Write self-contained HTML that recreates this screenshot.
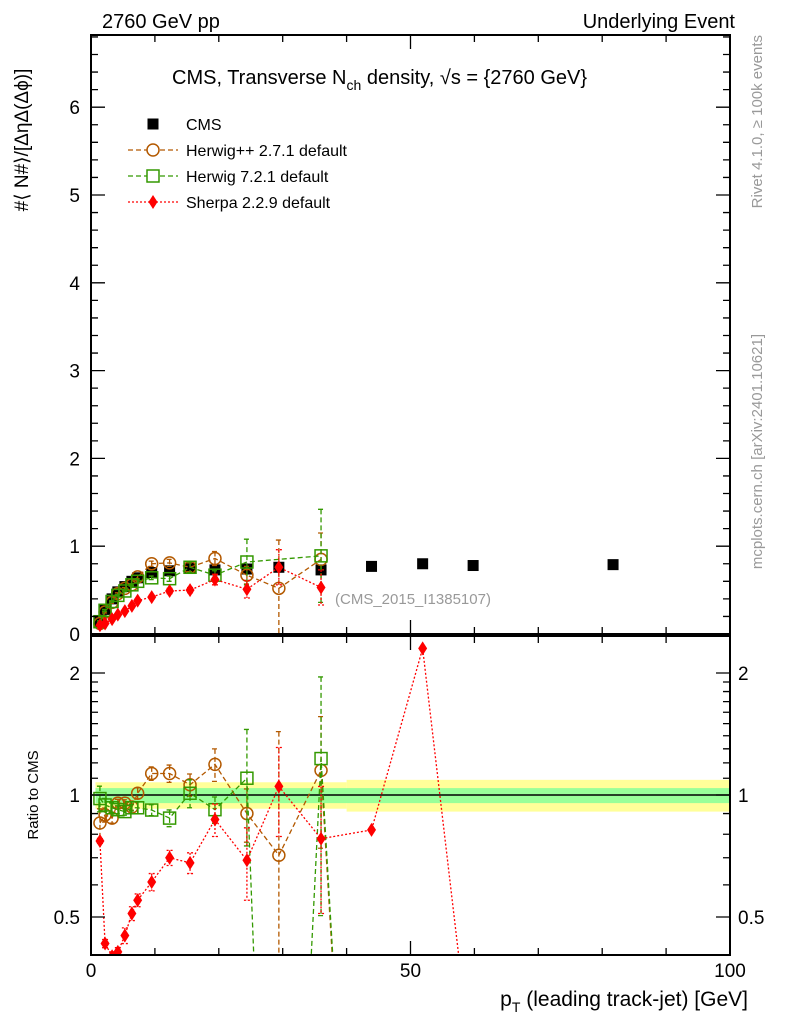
<!DOCTYPE html>
<html><head><meta charset="utf-8"><style>
html,body{margin:0;background:#fff;width:786px;height:1024px;overflow:hidden}
svg{font-family:"Liberation Sans",sans-serif;display:block}
</style></head><body>
<svg id="c" width="786" height="1024" viewBox="0 0 786 1024"></svg>
<script>
const xs=[1.4,2.2,3.3,4.2,5.3,6.4,7.3,9.5,12.3,15.5,19.4,24.4,29.4,36,43.9,51.9,59.8,81.7];
const cms=[0.14,0.28,0.4,0.48,0.54,0.6,0.64,0.7,0.72,0.75,0.73,0.74,0.76,0.73,0.77,0.8,0.78,0.79];
const hwpp=[0.12,0.25,0.36,0.46,0.52,0.56,0.65,0.8,0.81,0.76,0.86,0.67,0.52,0.85];
const hwppErr=[0.01,0.01,0.01,0.01,0.01,0.01,0.02,0.03,0.04,0.05,0.08,0.1,0.55,0.3];
const hw7=[0.14,0.27,0.37,0.44,0.49,0.56,0.6,0.64,0.63,0.76,0.67,0.82,null,0.89];
const hw7Err=[0.01,0.01,0.01,0.01,0.01,0.01,0.02,0.02,0.03,0.06,0.05,0.26,0,0.53];
const sherpa=[0.1,0.12,0.17,0.22,0.26,0.32,0.38,0.42,0.49,0.5,0.62,0.51,0.76,0.53];
const sherpaErr=[0.01,0.01,0.01,0.01,0.01,0.02,0.02,0.02,0.03,0.03,0.06,0.1,0.2,0.2];
const rHwpp=[0.853,0.893,0.877,0.955,0.955,0.934,1.01,1.13,1.13,1.06,1.19,0.90,0.71,1.15,0.01];
const rHw7=[0.98,0.945,0.93,0.92,0.91,0.93,0.93,0.918,0.877,1.01,0.92,1.10,0.01,1.23,0.01];
const rSherpa=[0.77,0.43,0.40,0.41,0.45,0.51,0.55,0.61,0.70,0.68,0.87,0.69,1.05,0.78,0.82,2.3,0.2,0.2];
const rSherpaErr=[0.01,0.01,0.01,0.01,0.02,0.02,0.02,0.03,0.03,0.04,0.08,0.14,0.26,0.27,0,0,0,0];
const yTicks=[0,1,2,3,4,5,6];
const rTicks=[0.5,1,2];
const xTicks=[0,50,100];

const svg=document.getElementById('c');
const NS='http://www.w3.org/2000/svg';
function mk(tag,at,txt){const e=document.createElementNS(NS,tag);for(const k in at)e.setAttribute(k,at[k]);if(txt!==undefined)e.textContent=txt;svg.appendChild(e);return e;}
const L=91,R=730,MT=35,MB=634,RT=636,RB=955;
const X=v=>L+v*(R-L)/100;
const Y=v=>MB-v*87.8;
const RY=v=>795-122*Math.log2(v);
const cp=mk('clipPath',{id:'rc'});
const cr=document.createElementNS(NS,'rect');cr.setAttribute('x',L);cr.setAttribute('y',RT);cr.setAttribute('width',R-L);cr.setAttribute('height',RB-RT);cp.appendChild(cr);
const cp2=mk('clipPath',{id:'mc'});
const cr2=document.createElementNS(NS,'rect');cr2.setAttribute('x',L);cr2.setAttribute('y',MT);cr2.setAttribute('width',R-L);cr2.setAttribute('height',MB-MT);cp2.appendChild(cr2);

let e=mk('rect',{x:X(0.7),y:RY(1.075),width:X(40)-X(0.7),height:RY(0.925)-RY(1.075),fill:'#ffff99'});

e=mk('rect',{x:X(40),y:RY(1.09),width:R-X(40),height:RY(0.91)-RY(1.09),fill:'#ffff99'});

e=mk('rect',{x:X(0.7),y:RY(1.04),width:R-X(0.7),height:RY(0.955)-RY(1.04),fill:'#99ff99'});

e=mk('line',{x1:L,x2:R,y1:RY(1),y2:RY(1),stroke:'#000','stroke-width':1.5});


function series(vals,errs,yf,col,dash,marker,name,clip,drawLine){
  const g=mk('g',{'clip-path':'url(#'+clip+')'});
  
  if(drawLine){
    let pts=[];
    vals.forEach((v,i)=>{if(v===null)return;pts.push(X(xs[i])+','+yf(Math.max(v,0.001)));});
    const pl=document.createElementNS(NS,'polyline');
    pl.setAttribute('points',pts.join(' '));pl.setAttribute('fill','none');pl.setAttribute('stroke',col);pl.setAttribute('stroke-width',1.3);pl.setAttribute('stroke-dasharray',dash);
    g.appendChild(pl);
  }
  vals.forEach((v,i)=>{
    if(v===null||v<0.05)return;
    const x=X(xs[i]),y=yf(v);
    if(errs&&errs[i]){const y1=yf(v+errs[i]),y2=yf(Math.max(v-errs[i],0.001));
      const l=document.createElementNS(NS,'path');l.setAttribute('d',`M${x},${y1}V${y2}M${x-3},${y1}h6M${x-3},${y2}h6`);l.setAttribute('stroke',col);l.setAttribute('stroke-width',1.3);l.setAttribute('stroke-dasharray',dash);g.appendChild(l);}
    let m;
    if(marker==='circle'){m=document.createElementNS(NS,'circle');m.setAttribute('cx',x);m.setAttribute('cy',y);m.setAttribute('r',6);m.setAttribute('fill','none');m.setAttribute('stroke',col);m.setAttribute('stroke-width',1.5);}
    else if(marker==='square'){m=document.createElementNS(NS,'rect');m.setAttribute('x',x-6);m.setAttribute('y',y-6);m.setAttribute('width',12);m.setAttribute('height',12);m.setAttribute('fill','none');m.setAttribute('stroke',col);m.setAttribute('stroke-width',1.5);}
    else if(marker==='diamond'){m=document.createElementNS(NS,'path');m.setAttribute('d',`M${x},${y-7}L${x+4.5},${y}L${x},${y+7}L${x-4.5},${y}Z`);m.setAttribute('fill',col);}
    else {m=document.createElementNS(NS,'rect');m.setAttribute('x',x-5.5);m.setAttribute('y',y-5.5);m.setAttribute('width',11);m.setAttribute('height',11);m.setAttribute('fill',col);}
    
    g.appendChild(m);
  });
}
series(cms,null,Y,'#000','none','fill','cms-series','mc',false);
series(hwpp,hwppErr,Y,'#b35900','5,3','circle','herwigpp-series','mc',true);
series(hw7,hw7Err,Y,'#339900','5,3','square','herwig7-series','mc',true);
series(sherpa,sherpaErr,Y,'#ff0000','2,2','diamond','sherpa-series','mc',true);
const rErr=(err)=>err.map((v,i)=>v/cms[i]);
series(rHwpp,rErr(hwppErr),RY,'#b35900','5,3','circle','herwigpp-ratio','rc',true);
series(rHw7,rErr(hw7Err),RY,'#339900','5,3','square','herwig7-ratio','rc',true);
series(rSherpa,rSherpaErr,RY,'#ff0000','2,2','diamond','sherpa-ratio','rc',true);

e=mk('rect',{x:L,y:MT,width:R-L,height:MB-MT,fill:'none',stroke:'#000','stroke-width':2});

e=mk('rect',{x:L,y:RT,width:R-L,height:RB-RT,fill:'none',stroke:'#000','stroke-width':2});

yTicks.forEach(t=>{const y=Y(t);
  mk('path',{d:`M${L},${y}h14M${R},${y}h-14`,stroke:'#000','stroke-width':1.3});
  e=mk('text',{x:80,y:y+7,'font-size':19,'text-anchor':'end'},t);
  for(let k=1;k<5&&t<6;k++){const yy=Y(t+k*0.2);mk('path',{d:`M${L},${yy}h7M${R},${yy}h-7`,stroke:'#000','stroke-width':1.3});}
});
for(let k=1;k<=4;k++){const yy=Y(6+k*0.2);if(yy>MT)mk('path',{d:`M${L},${yy}h7M${R},${yy}h-7`,stroke:'#000','stroke-width':1.3});}
[0.5,0.6,0.7,0.8,0.9,1,1.1,1.2,1.3,1.4,1.5,1.6,1.7,1.8,1.9,2].forEach(t=>{const y=RY(t);const big=rTicks.includes(t);
  mk('path',{d:`M${L},${y}h${big?14:7}M${R},${y}h-${big?14:7}`,stroke:'#000','stroke-width':1.3});});
rTicks.forEach(t=>{const y=RY(t);
  e=mk('text',{x:80,y:y+7,'font-size':19,'text-anchor':'end'},t);
  e=mk('text',{x:738,y:y+7,'font-size':19},t);});
for(let v=0;v<=100;v+=10){const x=X(v);const big=v%50===0;
  mk('path',{d:`M${x},${MB}v-${big?14:7}M${x},${MT}v${big?14:7}M${x},${RB}v-${big?14:7}M${x},${RT}v${big?14:7}`,stroke:'#000','stroke-width':1.3});}
xTicks.forEach(t=>{e=mk('text',{x:X(t),y:977,'font-size':19,'text-anchor':'middle'},t);});
function T(txt,at,name){e=mk('text',at);e.innerHTML=txt;}
T('2760 GeV pp',{x:102,y:28,'font-size':20},'energy-label');
T('Underlying Event',{x:735,y:28,'font-size':20,'text-anchor':'end'},'process-label');
T('CMS, Transverse N<tspan font-size="14" dy="6">ch</tspan><tspan dy="-6"> density, √s = {2760 GeV}</tspan>',{x:172,y:84,'font-size':20},'plot-title');
T('(CMS_2015_I1385107)',{x:335,y:604,'font-size':15,fill:'#999'},'analysis-id');
T('#⟨ N#⟩/[ΔηΔ(Δϕ)]',{transform:'translate(28,140) rotate(-90)','font-size':19,'text-anchor':'middle'},'y-axis-title');
T('Ratio to CMS',{transform:'translate(38,795) rotate(-90)','font-size':15,'text-anchor':'middle'},'ratio-axis-title');
T('p<tspan font-size="14" dy="6">T</tspan><tspan dy="-6"> (leading track-jet) [GeV]</tspan>',{x:748,y:1006,'font-size':21,'text-anchor':'end'},'x-axis-title');
T('Rivet 4.1.0, ≥ 100k events',{transform:'translate(762,35) rotate(-90)','font-size':15,'text-anchor':'end',fill:'#999'},'rivet-label');
T('mcplots.cern.ch [arXiv:2401.10621]',{transform:'translate(762,334) rotate(-90)','font-size':15,'text-anchor':'end',fill:'#999'},'mcplots-label');
const leg=[['CMS','#000','none','fill'],['Herwig++ 2.7.1 default','#b35900','5,3','circle'],['Herwig 7.2.1 default','#339900','5,3','square'],['Sherpa 2.2.9 default','#ff0000','2,2','diamond']];
leg.forEach((l,i)=>{const y=124+i*26;const x=153;
  if(l[3]!=='fill')mk('line',{x1:128,x2:178,y1:y,y2:y,stroke:l[1],'stroke-width':1.3,'stroke-dasharray':l[2]});
  if(l[3]==='fill')mk('rect',{x:x-5.5,y:y-5.5,width:11,height:11,fill:'#000'});
  if(l[3]==='circle')mk('circle',{cx:x,cy:y,r:6,fill:'#fff',stroke:l[1],'stroke-width':1.5});
  if(l[3]==='square')mk('rect',{x:x-6,y:y-6,width:12,height:12,fill:'#fff',stroke:l[1],'stroke-width':1.5});
  if(l[3]==='diamond')mk('path',{d:`M${x},${y-7}L${x+4.5},${y}L${x},${y+7}L${x-4.5},${y}Z`,fill:l[1]});
  e=mk('text',{x:186,y:y+6,'font-size':16},l[0]);
});
</script>
</body></html>
